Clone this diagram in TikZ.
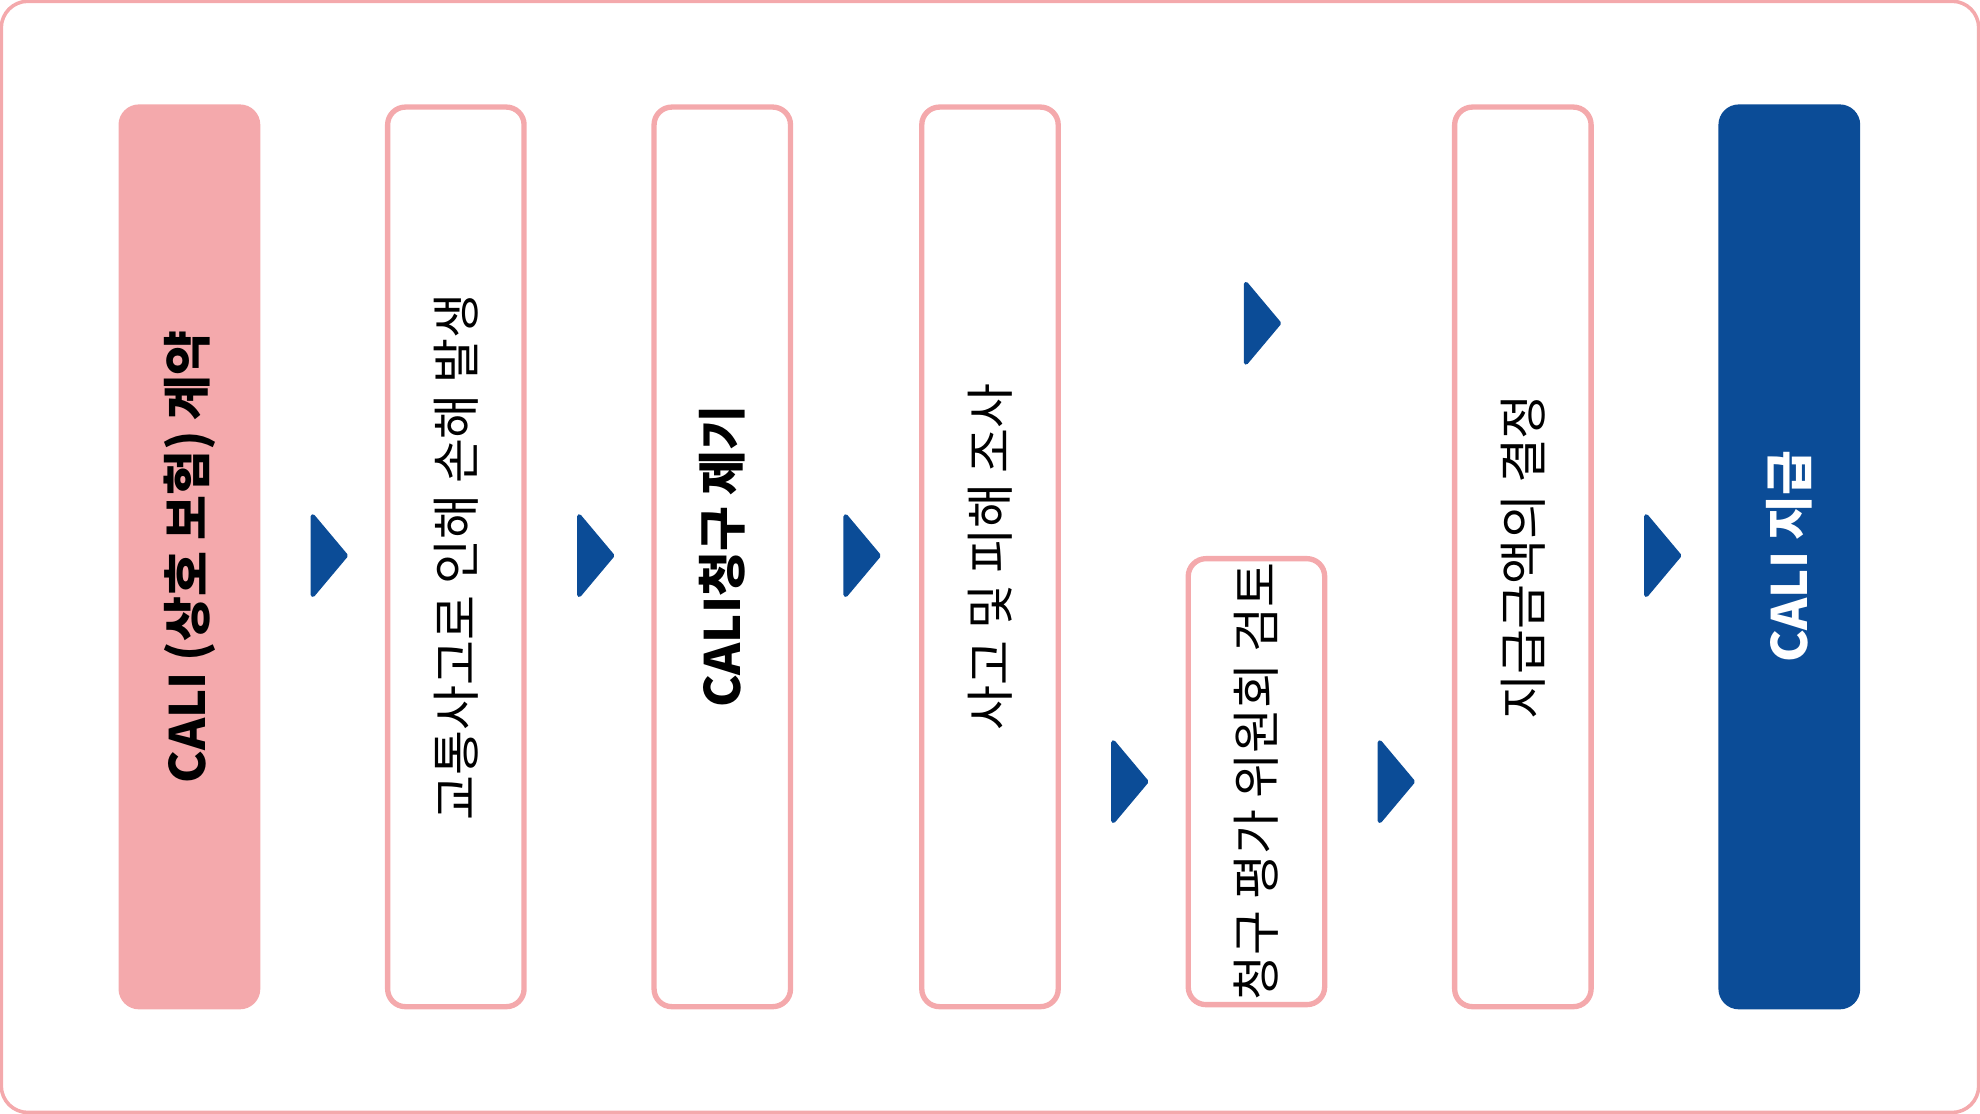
\documentclass[tikz,border=0pt]{standalone}
\usepackage{fontspec}
\setmainfont{Noto Sans CJK KR}
\usetikzlibrary{shapes.geometric}
\definecolor{calipink}{HTML}{F4A9AC}
\definecolor{caliblue}{HTML}{0B4C97}
\tikzset{
  stepbox/.style={rectangle, rounded corners=4pt, draw=calipink, line width=1.2pt, fill=white,
    rotate=90, minimum width=7.12cm, minimum height=1.08cm, inner sep=0pt, font=\fontsize{11}{13}\selectfont},
  flowarrow/.style={isosceles triangle, isosceles triangle stretches, fill=caliblue, draw=caliblue,
    line join=round, line width=1pt, minimum width=0.62cm, minimum height=0.26cm, inner sep=0pt},
}
\begin{document}
\begin{tikzpicture}[x=0.01cm, y=-0.01cm]
    \useasboundingbox (0,0) rectangle (1568,882);
    \draw[calipink, line width=0.8pt, rounded corners=6pt] (1,1) rectangle (1567,881);

    \node[stepbox, fill=calipink, font=\fontsize{11}{13}\selectfont\bfseries] (b1) at (150,441) {CALI (상호 보험) 계약};
    \node[stepbox] (b2) at (361,441) {교통사고로 인해 손해 발생};
    \node[stepbox, font=\fontsize{11}{13}\selectfont\bfseries] (b3) at (572,441) {CALI청구 제기};
    \node[stepbox] (b4) at (784,441) {사고 및 피해 조사};
    \node[stepbox, minimum width=3.53cm] (b5) at (995,619) {청구 평가 위원회 검토};
    \node[stepbox] (b6) at (1206,441) {지급금액의 결정};
    \node[stepbox, fill=caliblue, draw=caliblue, text=white, font=\fontsize{11}{13}\selectfont\bfseries] (b7) at (1417,441) {CALI 지급};

    \node[flowarrow] (a1) at (259,440) {};
    \node[flowarrow] (a2) at (470,440) {};
    \node[flowarrow] (a3) at (681,440) {};
    \node[flowarrow] (a4) at (998,256) {};
    \node[flowarrow] (a5) at (893,619) {};
    \node[flowarrow] (a6) at (1104,619) {};
    \node[flowarrow] (a7) at (1315,440) {};
\end{tikzpicture}
\end{document}
